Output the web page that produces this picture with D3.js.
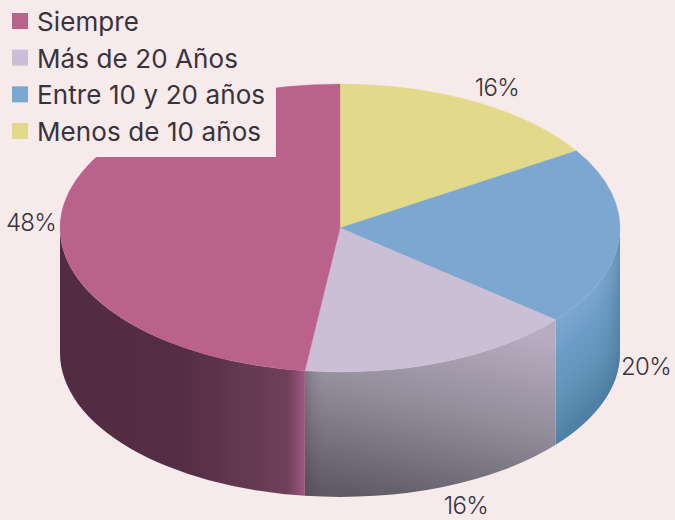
<!DOCTYPE html>
<html>
<head>
<meta charset="utf-8">
<script src="https://cdn.jsdelivr.net/npm/d3@7"></script>
<style>
html,body{margin:0;padding:0;background:#f6eaeb;overflow:hidden}
svg{display:block}
text{font-family:Inter,"Open Sans",sans-serif;fill:#38333c}
</style>
</head>
<body>
<svg id="c" width="675" height="520"></svg>
<script>
const categories = ["Siempre", "Más de 20 Años", "Entre 10 y 20 años", "Menos de 10 años"];
const values = [48, 16, 20, 16];
const colors = ["#bb628c", "#cbbfd6", "#7ba7d0", "#e2d98a"];
const valueLabels = ["48%", "16%", "20%", "16%"];
const labelPos = [[31, 222], [466, 505], [646, 366], [497, 87]];

const svg = d3.select("#c");
const cx = 340, cy = 228, rx = 280, ry = 144, depth = 125;
const sx = d3.scaleLinear().domain([-1, 1]).range([cx - rx, cx + rx]);
const sy = d3.scaleLinear().domain([-1, 1]).range([cy - ry, cy + ry]);

// clockwise from 12 o'clock: Menos, Entre, Más, Siempre
const order = [3, 2, 1, 0];
const pie = d3.pie().sort(null).value(i => values[i]);
const arcs = pie(order);

const defs = svg.append("defs");
function grad(id, stops, x1, y1, x2, y2) {
  const g = defs.append("linearGradient").attr("id", id)
    .attr("gradientUnits", "userSpaceOnUse")
    .attr("x1", x1).attr("y1", y1).attr("x2", x2).attr("y2", y2);
  stops.forEach(s => g.append("stop").attr("offset", s[0]).attr("stop-color", s[1]).attr("stop-opacity", s[2] === undefined ? 1 : s[2]));
}
const P = a => [sx(Math.sin(a)), sy(-Math.cos(a))];
const a90 = Math.PI / 2, a270 = 3 * Math.PI / 2;

// wall shading
const pinkEnd = P(arcs[3].startAngle)[0];
grad("wall0", [[0, "#522c42"], [0.5, "#552d44"], [0.82, "#683b55"], [0.93, "#70405b"], [0.975, "#8d4f76"], [1, "#a05a84"]], sx(-1), 0, pinkEnd, 0);
grad("wall1", [[0, "#b7acc0"], [0.5, "#8f8a98"], [1, "#5e5b66"]], 550, 340, 506, 530);
grad("wall1s", [[0, "#3d3a44", 0.3], [0.03, "#3d3a44", 0.1], [0.07, "#3d3a44", 0]], pinkEnd, 0, P(arcs[2].startAngle)[0], 0);
grad("wall2", [[0, "#7ba7d0"], [0.25, "#6e9ec8"], [0.67, "#6092b8"], [1, "#4f80a5"]], 570, 310, 630, 370);
grad("edge2", [[0, "#3f6a88", 0], [0.6, "#3f6a88", 0.14], [1, "#3f6a88", 0.4]], 596, 0, 620, 0);
const wallFill = { 0: "url(#wall0)", 1: "url(#wall1)", 2: "url(#wall2)" };

function wallPath(a0, a1) {
  const s = Math.max(a0, a90), e = Math.min(a1, a270);
  const [x0, y0] = P(s), [x1, y1] = P(e);
  return `M${x0},${y0}A${rx},${ry} 0 0 1 ${x1},${y1}V${y1 + depth}A${rx},${ry} 0 0 0 ${x0},${y0 + depth}Z`;
}

// walls
const walls = svg.append("g");
arcs.forEach(d => {
  if (d.endAngle <= a90 || d.startAngle >= a270) return;
  const p = wallPath(d.startAngle, d.endAngle);
  walls.append("path").attr("d", p).attr("fill", wallFill[d.data]);
  if (d.data === 1) walls.append("path").attr("d", p).attr("fill", "url(#wall1s)");
  if (d.data === 2) walls.append("path").attr("d", p).attr("fill", "url(#edge2)");
});

// top faces
const arcGen = d3.arc().innerRadius(0).outerRadius(rx);
const faces = svg.append("g").attr("transform", `translate(${cx},${cy}) scale(1,${ry / rx})`);
faces.selectAll("path.f").data(arcs).join("path").attr("class", "f")
  .attr("d", arcGen).attr("fill", d => colors[d.data])
  .attr("stroke", d => colors[d.data]).attr("stroke-width", 0.5);

// value labels
svg.append("g").selectAll("text").data(valueLabels).join("text")
  .attr("x", (d, i) => labelPos[i][0]).attr("y", (d, i) => labelPos[i][1])
  .attr("text-anchor", "middle").attr("dominant-baseline", "central")
  .attr("font-size", 24).attr("font-weight", 300).attr("letter-spacing", -0.7).text(d => d);

// legend
const ly = d3.scalePoint().domain(categories).range([21, 131]);
const legend = svg.append("g");
legend.append("rect").attr("x", 0).attr("y", 0).attr("width", 276).attr("height", 157).attr("fill", "#f6eaeb");
legend.selectAll("rect.s").data(categories).join("rect").attr("class", "s")
  .attr("x", 12).attr("y", d => ly(d) - 8).attr("width", 16).attr("height", 16)
  .attr("fill", (d, i) => colors[i]);
legend.selectAll("text").data(categories).join("text")
  .attr("x", 37).attr("y", d => ly(d) + 10)
  .attr("font-size", 26).attr("font-weight", 400).attr("letter-spacing", 0.1).text(d => d);
</script>
</body>
</html>
